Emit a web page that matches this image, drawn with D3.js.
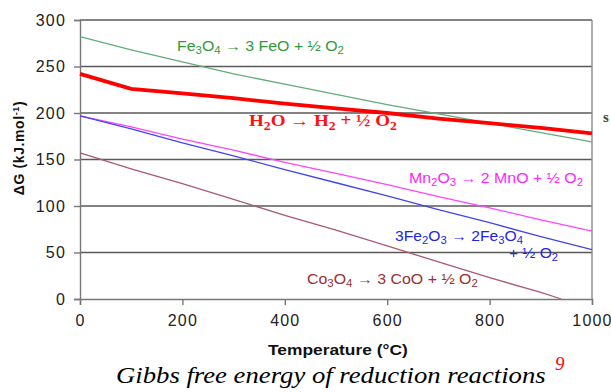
<!DOCTYPE html>
<html>
<head>
<meta charset="utf-8">
<script src="https://cdn.jsdelivr.net/npm/d3@7"></script>
<style>
  body { margin: 0; background: #fff; }
  svg { display: block; }
</style>
</head>
<body>
<div id="chart"></div>
<script>
// values
const temps = [0, 100, 200, 300, 400, 500, 600, 700, 800, 900, 1000];
const fe3o4 = [282, 268, 255, 242, 231, 220, 209, 199, 189, 179, 169];
const h2o   = [242, 226, 221, 216, 210, 205, 200, 194, 189, 184, 178];
const mn2o3 = [197, 185, 172, 160, 147, 135, 123, 110, 98, 85, 73];
const fe2o3 = [197, 183, 168, 154, 139, 125, 111, 96, 82, 67, 53];
const coTemps = [0, 100, 200, 300, 400, 500, 600, 700, 800, 900, 940];
const co3o4 = [157, 140, 124, 107, 90, 74, 57, 40, 23, 7, 0];
const xTicks = [0, 200, 400, 600, 800, 1000];
const yTicks = [0, 50, 100, 150, 200, 250, 300];

const W = 611, H = 392;
const svg = d3.select("#chart").append("svg")
  .attr("width", W)
  .attr("height", H);

const x = d3.scaleLinear().domain([0, 1000]).range([80, 592]);
const y = d3.scaleLinear().domain([0, 300]).range([299, 20]);

const sans = "Arial, 'Liberation Sans', sans-serif";
const serif = "'Times New Roman', 'Liberation Serif', serif";

// stretch a text sideways so it spans the width seen in the picture
function fitWidth(t, px, width) {
  const w = t.node().getComputedTextLength();
  const k = width / w;
  t.attr("transform", `translate(${px},0) scale(${k},1) translate(${-px},0)`);
}

// grid lines
svg.append("g")
  .selectAll("line")
  .data(yTicks.slice(1))
  .enter().append("line")
    .attr("x1", x(0)).attr("x2", x(1000))
    .attr("y1", d => y(d)).attr("y2", d => y(d))
    .attr("stroke", "#5a5a5a")
    .attr("stroke-width", 1.4);

// right border
svg.append("line")
  .attr("x1", x(1000)).attr("x2", x(1000))
  .attr("y1", y(300)).attr("y2", y(0))
  .attr("stroke", "#8a8a8a")
  .attr("stroke-width", 1.4);

// axes
const xAxis = svg.append("g")
  .attr("transform", `translate(0,${y(0)})`)
  .call(d3.axisBottom(x).tickValues(xTicks).tickFormat(d3.format("d")).tickSize(6).tickPadding(10));
const yAxis = svg.append("g")
  .attr("transform", `translate(${x(0)},0)`)
  .call(d3.axisLeft(y).tickValues(yTicks).tickSize(6).tickPadding(8));

[xAxis, yAxis].forEach(g => {
  g.select(".domain").attr("stroke", "#777").attr("stroke-width", 1.4);
  g.selectAll(".tick line").attr("stroke", "#777").attr("stroke-width", 1.4);
  g.selectAll(".tick text")
    .attr("font-family", sans)
    .attr("font-size", 16)
    .attr("letter-spacing", 1.2)
    .attr("fill", "#222");
});

// series lines
const line = d3.line().x(d => x(d[0])).y(d => y(d[1]));
const series = [
  { t: temps, v: fe3o4, color: "#5fae77", w: 1.3 },
  { t: temps, v: mn2o3, color: "#ff44ff", w: 1.3 },
  { t: temps, v: fe2o3, color: "#4444ee", w: 1.3 },
  { t: coTemps, v: co3o4, color: "#a85b6c", w: 1.3 },
  { t: temps, v: h2o, color: "#ff0000", w: 3.8 }
];
series.forEach(s => {
  svg.append("path")
    .datum(s.t.map((t, i) => [t, s.v[i]]))
    .attr("fill", "none")
    .attr("stroke", s.color)
    .attr("stroke-width", s.w)
    .attr("d", line);
});

// labels with subscripts, "_" marks a subscript character
function richLabel(str, px, py, width, opts) {
  const t = svg.append("text")
    .attr("x", px).attr("y", py)
    .attr("font-family", opts.family)
    .attr("font-size", opts.size)
    .attr("font-weight", opts.weight || "normal")
    .attr("fill", opts.color);
  const parts = str.split(/(_.)/);
  parts.forEach(p => {
    if (!p) return;
    if (p[0] === "_") {
      t.append("tspan").attr("dy", opts.size * 0.25).attr("font-size", opts.size * 0.72).text(p[1]);
      t.append("tspan").attr("dy", -opts.size * 0.25).text("\u200b");
    } else {
      t.append("tspan").text(p);
    }
  });
  fitWidth(t, px, width);
  return t;
}

richLabel("Fe_3O_4 \u2192 3 FeO + \u00bd O_2", 177, 51, 167, { family: sans, size: 14, color: "#2f9a3a" });
richLabel("H_2O \u2192 H_2 + \u00bd O_2", 249, 126, 148, { family: serif, size: 16, weight: "bold", color: "#ff1010" });
richLabel("Mn_2O_3 \u2192 2 MnO + \u00bd O_2", 409, 183, 174, { family: sans, size: 14, color: "#ff22ff" });
richLabel("3Fe_2O_3 \u2192 2Fe_3O_4", 395, 241, 128, { family: sans, size: 14, color: "#2222ee" });
richLabel("+ \u00bd O_2", 509, 258, 49, { family: sans, size: 14, color: "#2222ee" });
richLabel("Co_3O_4 \u2192 3 CoO + \u00bd O_2", 307, 284, 171, { family: sans, size: 14, color: "#9a3030" });

// stray character at the right edge
svg.append("text")
  .attr("x", 603).attr("y", 122)
  .attr("font-family", serif)
  .attr("font-size", 15)
  .attr("font-weight", "bold")
  .attr("fill", "#444")
  .text("s");

// axis titles
const xt = svg.append("text")
  .attr("x", 268).attr("y", 355)
  .attr("font-family", sans)
  .attr("font-size", 14)
  .attr("font-weight", "bold")
  .attr("fill", "#111")
  .text("Temperature (\u00b0C)");
fitWidth(xt, 268, 140);

const yt = svg.append("text")
  .attr("transform", "translate(24,148) rotate(-90)")
  .attr("text-anchor", "middle")
  .attr("font-family", sans)
  .attr("font-size", 14)
  .attr("font-weight", "bold")
  .attr("letter-spacing", 0.6)
  .attr("fill", "#111");
yt.append("tspan").text("\u0394G (kJ.mol");
yt.append("tspan").attr("dy", -5).attr("font-size", 9).text("-1");
yt.append("tspan").attr("dy", 5).text(")");

// caption
const cap = svg.append("text")
  .attr("x", 116).attr("y", 383)
  .attr("font-family", serif)
  .attr("font-style", "italic")
  .attr("font-size", 23)
  .attr("fill", "#000")
  .text("Gibbs free energy of reduction reactions");
fitWidth(cap, 116, 430);
svg.append("text")
  .attr("x", 555).attr("y", 370)
  .attr("font-family", serif)
  .attr("font-style", "italic")
  .attr("font-size", 19)
  .attr("fill", "#ff0000")
  .text("9");
</script>
</body>
</html>
